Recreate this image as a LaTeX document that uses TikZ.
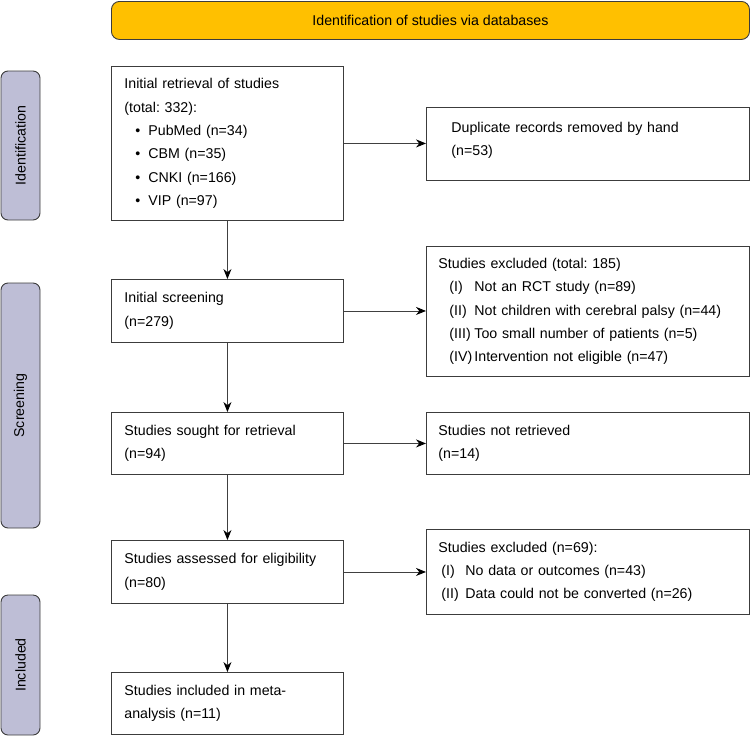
\documentclass[tikz,border=0pt]{standalone}
\usepackage{fontspec}
\setmainfont{Liberation Sans}
\usetikzlibrary{arrows.meta}
\definecolor{bannerfill}{RGB}{255,192,0}
\definecolor{sidefill}{RGB}{190,190,214}
\definecolor{edge}{RGB}{60,60,60}
\frenchspacing
\begin{document}
\begin{tikzpicture}[x=1pt,y=-1pt,
  every node/.style={font=\fontsize{14.2pt}{23.3pt}\selectfont},
  box/.style={draw=edge, line width=0.9pt, fill=white, inner xsep=13pt, inner ysep=0pt,
    align=left, anchor=north west},
  side/.style={draw=edge, line width=0.9pt, fill=sidefill, rounded corners=7pt,
    rotate=90, minimum height=39pt, inner sep=0pt},
  banner/.style={draw=edge, line width=0.9pt, fill=bannerfill, rounded corners=8pt,
    anchor=north west, minimum width=638pt, minimum height=38pt, inner sep=0pt},
  arr/.style={draw=black!75, line width=0.9pt, -{Stealth[length=10pt,width=8pt,color=black]}}
]
\useasboundingbox (0,0) rectangle (750,737);

\node[banner] (top) at (111,1) {Identification of studies via databases};

\node[side, minimum width=149pt] (sid) at (20.5,145.5) {Identification};
\node[side, minimum width=245pt] (ssc) at (20.5,405.5) {Screening};
\node[side, minimum width=140pt] (sin) at (20.5,665) {Included};

\node[box, text width=206pt, minimum height=154pt] (b1) at (111,66)
  {Initial retrieval of studies\\(total: 332):\\
   \hspace*{11pt}\makebox[13pt][l]{\textbullet}PubMed (n=34)\\
   \hspace*{11pt}\makebox[13pt][l]{\textbullet}CBM (n=35)\\
   \hspace*{11pt}\makebox[13pt][l]{\textbullet}CNKI (n=166)\\
   \hspace*{11pt}\makebox[13pt][l]{\textbullet}VIP (n=97)};

\node[box, inner xsep=25pt, text width=273pt, minimum height=73pt] (dup) at (426,107)
  {Duplicate records removed by hand\\(n=53)\rule[-10pt]{0pt}{10pt}};

\node[box, text width=206pt, minimum height=63pt] (b3) at (111,279)
  {Initial screening\\(n=279)};

\node[box, inner xsep=12pt, text width=299pt, minimum height=130pt] (ex1) at (426,246)
  {Studies excluded (total: 185)\\
   \hspace*{11pt}\makebox[25pt][l]{(I)}Not an RCT study (n=89)\\
   \hspace*{11pt}\makebox[25pt][l]{(II)}Not children with cerebral palsy (n=44)\\
   \hspace*{11pt}\makebox[25pt][l]{(III)}Too small number of patients (n=5)\\
   \hspace*{11pt}\makebox[25pt][l]{(IV)}Intervention not eligible (n=47)};

\node[box, text width=206pt, minimum height=62pt] (b4) at (111,412)
  {Studies sought for retrieval\\(n=94)};

\node[box, inner xsep=12pt, text width=299pt, minimum height=62pt] (nr) at (426,412)
  {Studies not retrieved\\(n=14)};

\node[box, text width=206pt, minimum height=63pt] (b5) at (111,540)
  {Studies assessed for eligibility\\(n=80)};

\node[box, inner xsep=12pt, text width=299pt, minimum height=85pt] (ex2) at (426,529)
  {Studies excluded (n=69):\\
   \hspace*{3pt}\makebox[24pt][l]{(I)}No data or outcomes (n=43)\\
   \hspace*{3pt}\makebox[24pt][l]{(II)}Data could not be converted (n=26)};

\node[box, text width=206pt, minimum height=62pt] (b6) at (111,672)
  {Studies included in meta-\\analysis (n=11)};

\draw[arr] (b1.east) -- (b1.east -| dup.west);
\draw[arr] (b3.east) -- (b3.east -| ex1.west);
\draw[arr] (b4.east) -- (b4.east -| nr.west);
\draw[arr] (b5.east) -- (b5.east -| ex2.west);
\draw[arr] (b1.south) -- (b3.north);
\draw[arr] (b3.south) -- (b4.north);
\draw[arr] (b4.south) -- (b5.north);
\draw[arr] (b5.south) -- (b6.north);
\end{tikzpicture}
\end{document}
